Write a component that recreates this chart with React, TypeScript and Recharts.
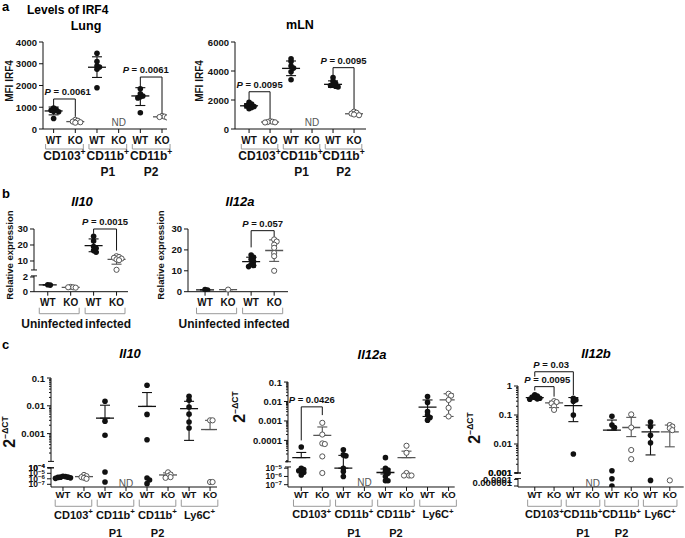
import React from 'react';
import { ScatterChart, Scatter, XAxis, YAxis, ErrorBar, ReferenceLine, ReferenceDot } from 'recharts';

const FONT = '"Liberation Sans", Arial, sans-serif';
const INK = '#111';
const KO_INK = '#555';
const GREY = '#9a9a9a';

// ---------- categories / labels ----------
const wtko6 = ['WT', 'KO', 'WT', 'KO', 'WT', 'KO'];
const wtko4 = ['WT', 'KO', 'WT', 'KO'];
const wtko8 = ['WT', 'KO', 'WT', 'KO', 'WT', 'KO', 'WT', 'KO'];
const cellsA = [['CD103+'], ['CD11b+', 'P1'], ['CD11b+', 'P2']];
const cellsC = [['CD103+'], ['CD11b+', 'P1'], ['CD11b+', 'P2'], ['Ly6C+']];
const infection = ['Uninfected', 'infected'];

// ---------- a: Lung (MFI IRF4) ----------
const lungPts = [
  [960, 900, 860, 820, 790, 480],
  [420, 380, 340, 310, 290],
  [3480, 3100, 2900, 2850, 2750, 1900],
  [],
  [1850, 1620, 1520, 1480, 1430, 750],
  [600, 570, 550, 530],
];
const lungMean = [830, 340, 2840, null, 1520, 560];
const lungLo = [650, 290, 2370, null, 1080, 520];
const lungHi = [1010, 400, 3320, null, 1900, 600];
const lungTicks = [0, 1000, 2000, 3000, 4000];

// ---------- a: mLN ----------
const mlnPts = [
  [1850, 1720, 1650, 1600, 1550, 1480, 1400],
  [540, 500, 480, 460, 450],
  [4850, 4650, 4350, 4200, 3950, 3400],
  [],
  [3550, 3300, 3150, 3050, 3000, 2950, 2900],
  [1200, 1120, 1060, 1000, 950],
];
const mlnMean = [1600, 480, 4180, null, 3080, 1050];
const mlnLo = [1450, 440, 3680, null, 2870, 940];
const mlnHi = [1750, 520, 4690, null, 3320, 1160];
const mlnTicks = [0, 2000, 4000, 6000];

// ---------- b: Il10 / Il12a relative expression ----------
const il10bPts = [
  [0.95, 0.9],
  [0.65, 0.6, 0.55, 0.6],
  [25.5, 22.5, 19, 18, 16.5, 15.5],
  [13, 12.5, 12, 11.5, 11, 10.5, 4.5],
];
const il10bMean = [0.92, 0.6, 19.6, 11];
const il10bLo = [0.9, 0.55, 15.8, 8];
const il10bHi = [0.95, 0.65, 23.8, 12.7];

const il12abPts = [
  [1.0, 0.8],
  [1.0],
  [17.5, 16.5, 15.5, 14.5, 13, 12.5, 12],
  [25, 24, 22.5, 21, 18.5, 17, 10],
];
const il12abMean = [0.9, 1.0, 14.4, 19.7];
const il12abLo = [0.9, 1.0, 12.5, 14.5];
const il12abHi = [0.9, 1.0, 16.5, 24.8];

// ---------- c: 2^-dCT ----------
const il10cPts = [
  [3e-6, 2.5e-6, 2e-6, 2e-6, 1.8e-6, 1.5e-6, 1.2e-6],
  [5e-6, 3e-6, 2e-6, 1.5e-6, 1e-6],
  [0.0145, 0.0028, 0.00087, 1.7e-5, 2.6e-7],
  [],
  [0.055, 0.0049, 0.0006, 1.4e-6, 6e-7, 1.3e-7],
  [1.5e-5, 6e-6, 3e-6, 2e-6, 1.5e-6],
  [0.022, 0.016, 0.009, 0.005, 0.0026, 0.0016],
  [0.003, 0.003, 2.6e-7, 2.6e-7],
];
const il10cMean = [2e-6, 2.5e-6, 0.0036, null, 0.0095, 5e-6, 0.0079, 0.0014];
const il10cLo = [1.7e-6, 2e-6, null, null, null, 4e-6, 0.00057, null];
const il10cHi = [2.4e-6, 3.2e-6, 0.0105, null, 0.03, 1.2e-5, 0.0145, 0.003];

const il12acPts = [
  [4.6e-5, 1e-5, 7e-6, 5e-6, 4e-6, 3e-6, 1.5e-6],
  [8e-4, 2e-4, 7e-5, 6.5e-5, 1.5e-5, 2.6e-6],
  [3.3e-5, 1.8e-5, 1.6e-5, 1e-5, 4e-6, 1e-6],
  [],
  [1.3e-5, 1e-5, 6e-6, 4e-6, 2.5e-6, 1e-6, 3e-7, 3e-7],
  [5.3e-5, 2.3e-5, 2.6e-6, 1.3e-6, 1.3e-6, 1.3e-6],
  [0.018, 0.009, 0.003, 0.002, 0.0015, 0.0011],
  [0.025, 0.02, 0.012, 0.0047, 0.0017],
];
const il12acMean = [1.3e-5, 1.8e-4, 1e-5, null, 3e-6, 1.3e-5, 0.0051, 0.012];
const il12acLo = [null, null, null, null, 2e-6, null, 0.0017, 0.0017];
const il12acHi = [2.4e-5, 4.9e-4, 1.7e-5, null, 8e-6, 2.8e-5, 0.012, 0.025];

const il12bcPts = [
  [0.5, 0.45, 0.42, 0.4, 0.38, 0.36, 0.35],
  [0.3, 0.28, 0.25, 0.2, 0.15],
  [0.38, 0.33, 0.3, 0.1, 0.0045],
  [],
  [0.09, 0.045, 0.037, 0.0012, 1.5e-4, 1e-6],
  [0.105, 0.037, 0.0062, 0.003],
  [0.057, 0.04, 0.02, 0.011, 5e-5],
  [0.045, 0.04, 0.035, 0.03, 5e-5],
];
const il12bcMean = [0.4, 0.26, 0.21, null, 0.03, 0.037, 0.026, 0.026];
const il12bcLo = [0.36, 0.18, 0.059, null, null, 0.018, 0.0042, 0.008];
const il12bcHi = [0.45, 0.3, 0.4, null, 0.067, 0.083, 0.045, 0.045];

// ---------- types ----------
type Tick = { v: number; t?: string; s?: number; k?: 'min' | 'brk'; dy?: number; fs?: number };
type Br = { a: number; b: number; top: number; da: number; db: number; p: string; dx?: number };
type Grp = { first: number; lines: string[]; dx?: number };
type XS = { lab: number; bt: number; bb: number; g: number; g2: number; labFs: number; gFs: number };
interface Cfg {
  axisX: number; axisEnd: number; plotTop: number; axisY: number;
  xDom: [number, number]; yDom: [number, number];
  toD: (v: number, s?: number) => number;
  ticks: Tick[]; segs: [number, number][];
  labels: string[]; groups: Grp[];
  pts: number[][]; mean: (number | null)[]; lo: (number | null)[]; hi: (number | null)[];
  br: Br[]; nd: { x: number; y: number; s?: number }[];
  xs: XS; yFs: number;
}

const lin = (v: number) => v;
const il10bD = (v: number, s?: number) =>
  (s ?? (v < 3.3 ? 0 : 1)) === 0 ? v * 7.35 : 30.7 + (v - 10) * 1.6;

type Piece = { lv0: number; d0: number; slope: number; min?: number };
const logBreak = (up: Piece, low: Piece, split: number) => (v: number, s?: number) => {
  const lv = Math.log10(v);
  const seg = s ?? (lv >= split ? 1 : 0);
  if (seg === 1) return up.d0 + (lv - up.lv0) * up.slope;
  return low.d0 + (Math.max(lv, low.min ?? -99) - low.lv0) * low.slope;
};
const il10cD = logBreak({ lv0: -3, d0: 53.4, slope: 27.8 }, { lv0: -7, d0: 2.7, slope: 5.5, min: -7 }, -4);
const il12acD = logBreak({ lv0: -4, d0: 46.6, slope: 19.45 }, { lv0: -7, d0: 2.3, slope: 8.25, min: -7 }, -4.95);
const il12bcD = logBreak({ lv0: -3, d0: 14, slope: 29 }, { lv0: -6, d0: 1, slope: 3.3, min: -6.3 }, -3.5);

const minors = (k0: number, k1: number, lo: number, hi: number): Tick[] => {
  const out: Tick[] = [];
  for (let k = k0; k <= k1; k++)
    for (let m = 2; m <= 9; m++) {
      const v = m * Math.pow(10, k);
      if (v > lo * 1.0001 && v < hi * 0.9999) out.push({ v, s: 1, k: 'min' });
    }
  return out;
};

const xsA: XS = { lab: 11, bt: 15, bb: 20, g: 26.5, g2: 42.5, labFs: 10, gFs: 12 };
const xsB: XS = { lab: 11, bt: 16, bb: 22, g: 32, g2: 48, labFs: 10, gFs: 12 };
const xsC: XS = { lab: 7.8, bt: 12.6, bb: 19.3, g: 27.5, g2: 46, labFs: 9.5, gFs: 11 };

const grpA: Grp[] = cellsA.map((lines, i) => ({ first: i * 2, lines }));
const grpC: Grp[] = cellsC.map((lines, i) => ({ first: i * 2, lines }));

const lung: Cfg = {
  axisX: 43, axisEnd: 167, plotTop: 42, axisY: 129, xDom: [-0.49, 5.23], yDom: [0, 4000], toD: lin,
  ticks: lungTicks.map((v) => ({ v, t: String(v) })), segs: [[0, 4000]],
  labels: wtko6, groups: grpA, pts: lungPts, mean: lungMean, lo: lungLo, hi: lungHi,
  br: [
    { a: 0, b: 1, top: 1380, da: 1030, db: 560, p: '0.0061', dx: 0.15 },
    { a: 4, b: 5, top: 2390, da: 1900, db: 640, p: '0.0061', dx: -0.25 },
  ],
  nd: [{ x: 3, y: 290 }], xs: xsA, yFs: 9.5,
};

const mln: Cfg = {
  axisX: 235, axisEnd: 366, plotTop: 42, axisY: 129, xDom: [-0.67, 5.57], yDom: [0, 6000], toD: lin,
  ticks: mlnTicks.map((v) => ({ v, t: String(v) })), segs: [[0, 6000]],
  labels: wtko6, groups: grpA, pts: mlnPts, mean: mlnMean, lo: mlnLo, hi: mlnHi,
  br: [
    { a: 0, b: 1, top: 2570, da: 2000, db: 620, p: '0.0095' },
    { a: 4, b: 5, top: 4230, da: 3720, db: 1310, p: '0.0095' },
  ],
  nd: [{ x: 3, y: 434 }], xs: xsA, yFs: 9.5,
};

const il10b: Cfg = {
  axisX: 34, axisEnd: 128, plotTop: 229, axisY: 291.7, xDom: [-0.6, 3.5], yDom: [0, 62.7], toD: il10bD,
  ticks: [
    { v: 0, t: '0', s: 0 }, { v: 2, t: '2', s: 0 }, { v: 10, t: '10', s: 1 }, { v: 20, t: '20', s: 1 },
    { v: 30, t: '30', s: 1 }, { v: 2.15, s: 0, k: 'brk' }, { v: 4.4, s: 1, k: 'brk' },
  ],
  segs: [[0, il10bD(2.15, 0)], [il10bD(4.4, 1), il10bD(30, 1)]],
  labels: wtko4, groups: [{ first: 0, lines: [infection[0]], dx: -7 }, { first: 2, lines: [infection[1]], dx: 3 }],
  pts: il10bPts, mean: il10bMean, lo: il10bLo, hi: il10bHi,
  br: [{ a: 2, b: 3, top: 30, da: 27, db: 16.5, p: '0.0015' }],
  nd: [], xs: xsB, yFs: 9.5,
};

const il12ab: Cfg = {
  axisX: 188, axisEnd: 288, plotTop: 229, axisY: 291.7, xDom: [-0.74, 3.6], yDom: [0, 30], toD: lin,
  ticks: [0, 10, 20, 30].map((v) => ({ v, t: String(v) })), segs: [[0, 30]],
  labels: wtko4, groups: [{ first: 0, lines: [infection[0]], dx: -7 }, { first: 2, lines: [infection[1]], dx: 4 }],
  pts: il12abPts, mean: il12abMean, lo: il12abLo, hi: il12abHi,
  br: [{ a: 2, b: 3, top: 29.2, da: 21.2, db: 25.5, p: '0.057' }],
  nd: [], xs: xsB, yFs: 9.5,
};

const il10c: Cfg = {
  axisX: 50.7, axisEnd: 216.7, plotTop: 377.7, axisY: 486.7, xDom: [-0.57, 7.33], yDom: [0, 109], toD: il10cD,
  ticks: [
    { v: 0.1, t: '0.1', s: 1 }, { v: 0.01, t: '0.01', s: 1 }, { v: 0.001, t: '0.001', s: 1 },
    ...minors(-4, -2, 1e-4, 0.1),
    { v: 1e-4, s: 1, k: 'brk' }, { v: 1e-4, s: 0, k: 'brk' },
    { v: 1e-4, t: '10^−4', s: 0, fs: 8.5 }, { v: 1e-5, t: '10^−5', s: 0, fs: 8.5 },
    { v: 1e-6, t: '10^−6', s: 0, fs: 8.5 }, { v: 1e-7, t: '10^−7', s: 0, fs: 8.5 },
  ],
  segs: [[0, il10cD(1e-4, 0)], [il10cD(1e-4, 1), il10cD(0.1, 1)]],
  labels: wtko8, groups: grpC, pts: il10cPts, mean: il10cMean, lo: il10cLo, hi: il10cHi,
  br: [], nd: [{ x: 3, y: 1.7e-7, s: 0 }], xs: xsC, yFs: 9.5,
};

const il12ac: Cfg = {
  axisX: 288.3, axisEnd: 455, plotTop: 382.3, axisY: 487.3, xDom: [-0.63, 7.29], yDom: [0, 105], toD: il12acD,
  ticks: [
    { v: 0.1, t: '0.1', s: 1 }, { v: 0.01, t: '0.01', s: 1 }, { v: 0.001, t: '0.001', s: 1 },
    { v: 0.0001, t: '0.0001', s: 1 }, ...minors(-6, -2, Math.pow(10, -5.1), 0.1),
    { v: Math.pow(10, -5.1), s: 1, k: 'brk' }, { v: Math.pow(10, -4.85), s: 0, k: 'brk' },
    { v: 1e-5, t: '10^−5', s: 0, fs: 8.5 }, { v: 1e-6, t: '10^−6', s: 0, fs: 8.5 }, { v: 1e-7, t: '10^−7', s: 0, fs: 8.5 },
  ],
  segs: [[0, il12acD(Math.pow(10, -4.85), 0)], [il12acD(Math.pow(10, -5.1), 1), il12acD(0.1, 1)]],
  labels: wtko8, groups: grpC, pts: il12acPts, mean: il12acMean, lo: il12acLo, hi: il12acHi,
  br: [{ a: 0, b: 1, top: 0.0053, da: 1e-4, db: 0.002, p: '0.0426' }],
  nd: [{ x: 3, y: 1.9e-7, s: 0 }], xs: xsC, yFs: 9.5,
};

const il12bc: Cfg = {
  axisX: 518.3, axisEnd: 684, plotTop: 386, axisY: 487, xDom: [-0.87, 7.72], yDom: [0, 101], toD: il12bcD,
  ticks: [
    { v: 1, t: '1', s: 1 }, { v: 0.1, t: '0.1', s: 1 }, { v: 0.01, t: '0.01', s: 1 }, { v: 0.001, t: '0.001', s: 1 },
    ...minors(-3, -1, 0.001, 1),
    { v: 0.001, s: 1, k: 'brk' }, { v: Math.pow(10, -3.76), s: 0, k: 'brk' },
    { v: 1e-4, t: '0.0001', s: 0, dy: 0 }, { v: 1e-6, t: '0.000001', s: 0, dy: -3 },
  ],
  segs: [[0, il12bcD(Math.pow(10, -3.76), 0)], [il12bcD(0.001, 1), il12bcD(1, 1)]],
  labels: wtko8, groups: grpC, pts: il12bcPts, mean: il12bcMean, lo: il12bcLo, hi: il12bcHi,
  br: [
    { a: 0, b: 2, top: 3.1, da: 2.1, db: 0.49, p: '0.03', dx: -0.15 },
    { a: 0, b: 1, top: 0.95, da: 0.7, db: 0.43, p: '0.0095', dx: 0.15 },
  ],
  nd: [{ x: 3, y: 6.6e-6, s: 0 }], xs: xsC, yFs: 9.5,
};

// ---------- rendering helpers ----------
function Rich({ s, fs }: { s: string; fs: number }) {
  let base = s;
  let sup = '';
  const k = s.indexOf('^');
  if (k >= 0) {
    base = s.slice(0, k);
    sup = s.slice(k + 1);
  } else if (s.endsWith('+')) {
    base = s.slice(0, -1);
    sup = '+';
  }
  return (
    <>
      {base}
      {sup && (
        <tspan dy={-fs * 0.28} fontSize={fs * 0.72}>
          {sup}
        </tspan>
      )}
    </>
  );
}

const YW = 46;
const MT = 30;
const XH = 58;
const MR = 30;

function Panel({ c }: { c: Cfg }) {
  const plotW = c.axisEnd - c.axisX;
  const plotH = c.axisY - c.plotTop;
  const W = YW + plotW + MR;
  const H = MT + plotH + XH;
  const pxX = plotW / (c.xDom[1] - c.xDom[0]);
  const pxY = plotH / (c.yDom[1] - c.yDom[0]);

  // spread overlapping dots sideways (beeswarm)
  const filled: any[] = [];
  const open: any[] = [];
  c.pts.forEach((arr, i) => {
    const placed: { dx: number; y: number }[] = [];
    const ds = arr.map((v) => c.toD(v)).sort((a, b) => b - a);
    ds.forEach((d) => {
      const y = d * pxY;
      let dx = 0;
      for (let k = 0; k < 24; k++) {
        const cand = k === 0 ? 0 : (k % 2 ? 1 : -1) * Math.ceil(k / 2) * 2.5;
        if (placed.every((p) => Math.hypot(p.dx - cand, p.y - y) >= 2.5)) {
          dx = cand;
          break;
        }
      }
      placed.push({ dx, y });
      (i % 2 ? open : filled).push({ x: i + dx / pxX, y: d });
    });
  });

  const sumW: any[] = [];
  const sumK: any[] = [];
  c.mean.forEach((m, i) => {
    if (m == null) return;
    const dm = c.toD(m);
    const lo = c.lo[i];
    const hi = c.hi[i];
    const dl = lo == null ? dm : c.toD(lo);
    const dh = hi == null ? dm : c.toD(hi);
    (i % 2 ? sumK : sumW).push({ x: i, y: dm, err: [dm - dl, dh - dm] });
  });

  const tickDs = c.ticks.map((t) => c.toD(t.v, t.s));
  const xTicks = c.labels.map((_, i) => i);
  const sp = pxX;

  const yTick = (p: any) => {
    const d = p.payload.value;
    const x = p.x;
    const y = p.y;
    const els: React.ReactNode[] = [];
    tickDs.forEach((v, j) => {
      if (Math.abs(v - d) > 1e-6) return;
      const t = c.ticks[j];
      if (t.k === 'brk') {
        els.push(<line key={'b' + j} x1={x - 3} x2={x + 3} y1={y} y2={y} stroke={INK} />);
        return;
      }
      const len = t.k === 'min' ? 2 : 4;
      els.push(<line key={'l' + j} x1={x - len} x2={x} y1={y} y2={y} stroke={INK} />);
      if (t.t) {
        const fs = t.fs ?? c.yFs;
        els.push(
          <text key={'t' + j} x={x - 6} y={y + (t.dy ?? 0)} textAnchor="end" dominantBaseline="central"
            fontSize={fs} fontWeight="bold" fill={INK} fontFamily={FONT}>
            <Rich s={t.t} fs={fs} />
          </text>
        );
      }
    });
    return <g>{els}</g>;
  };

  const xTick = (p: any) => {
    const { x, y, payload } = p;
    const i = Math.round(payload.value);
    const base = y - 4;
    const g = c.groups.find((gg) => gg.first === i);
    const mid = x + sp / 2;
    const h = sp * 0.87;
    return (
      <g fontFamily={FONT} fill={INK} fontWeight="bold">
        <text x={x} y={base + c.xs.lab} textAnchor="middle" dominantBaseline="central" fontSize={c.xs.labFs}>
          {c.labels[i]}
        </text>
        {g && (
          <path d={`M${mid - h},${base + c.xs.bt}V${base + c.xs.bb}H${mid + h}V${base + c.xs.bt}`}
            stroke={GREY} fill="none" strokeWidth={1} />
        )}
        {g &&
          g.lines.map((ln, k) => (
            <text key={k} x={mid + (g.dx ?? 0)} y={base + (k === 0 ? c.xs.g : c.xs.g2)} textAnchor="middle"
              dominantBaseline="central" fontSize={c.xs.gFs}>
              <Rich s={ln} fs={c.xs.gFs} />
            </text>
          ))}
      </g>
    );
  };

  const dot = (isOpen: boolean) => (p: any) =>
    isOpen ? (
      <circle cx={p.cx} cy={p.cy} r={2.6} fill="#fff" stroke={KO_INK} strokeWidth={1} />
    ) : (
      <circle cx={p.cx} cy={p.cy} r={2.8} fill={INK} />
    );
  const meanLine = (col: string) => (p: any) =>
    <line x1={p.cx - 9} x2={p.cx + 9} y1={p.cy} y2={p.cy} stroke={col} strokeWidth={1.3} />;

  return (
    <div style={{ position: 'absolute', left: c.axisX - YW, top: c.plotTop - MT, width: W, height: H }}>
      <ScatterChart width={W} height={H} margin={{ top: MT, right: MR, bottom: 0, left: 0 }}>
        <XAxis type="number" dataKey="x" domain={c.xDom} allowDataOverflow ticks={xTicks} interval={0}
          tickSize={4} tickMargin={0} height={XH} tick={xTick} axisLine={{ stroke: INK }} tickLine={{ stroke: INK }} />
        <YAxis type="number" dataKey="y" domain={c.yDom} allowDataOverflow ticks={tickDs} interval={0}
          width={YW} tickSize={0} tickMargin={0} tickLine={false} axisLine={false} tick={yTick} />
        {c.segs.map((s, k) => (
          <ReferenceLine key={'s' + k} segment={[{ x: c.xDom[0], y: s[0] }, { x: c.xDom[0], y: s[1] }]}
            stroke={INK} strokeWidth={1} ifOverflow="visible" />
        ))}
        {c.br.map((b, k) => {
          const top = c.toD(b.top);
          return [
            <ReferenceLine key={'h' + k} segment={[{ x: b.a, y: top }, { x: b.b, y: top }]} stroke={INK} ifOverflow="visible" />,
            <ReferenceLine key={'va' + k} segment={[{ x: b.a, y: top }, { x: b.a, y: c.toD(b.da) }]} stroke={INK} ifOverflow="visible" />,
            <ReferenceLine key={'vb' + k} segment={[{ x: b.b, y: top }, { x: b.b, y: c.toD(b.db) }]} stroke={INK} ifOverflow="visible" />,
            <ReferenceDot key={'p' + k} x={(b.a + b.b) / 2 + (b.dx ?? 0)} y={top} r={0} ifOverflow="visible"
              shape={(p: any) => (
                <text x={p.cx} y={p.cy - 4} textAnchor="middle" fontSize={9.5} fontWeight="bold" fill={INK} fontFamily={FONT}>
                  <tspan fontStyle="italic">P</tspan> = {b.p}
                </text>
              )} />,
          ];
        })}
        {c.nd.map((n, k) => (
          <ReferenceDot key={'nd' + k} x={n.x} y={c.toD(n.y, n.s)} r={0} ifOverflow="visible"
            shape={(p: any) => (
              <text x={p.cx} y={p.cy} textAnchor="middle" dominantBaseline="central" fontSize={10} fill="#555" fontFamily={FONT}>
                ND
              </text>
            )} />
        ))}
        <Scatter data={sumW} isAnimationActive={false} shape={meanLine(INK)}>
          <ErrorBar dataKey="err" direction="y" width={5} stroke={INK} strokeWidth={1.1} isAnimationActive={false} />
        </Scatter>
        <Scatter data={sumK} isAnimationActive={false} shape={meanLine(KO_INK)}>
          <ErrorBar dataKey="err" direction="y" width={5} stroke={KO_INK} strokeWidth={1.1} isAnimationActive={false} />
        </Scatter>
        <Scatter data={filled} isAnimationActive={false} shape={dot(false)} />
        <Scatter data={open} isAnimationActive={false} shape={dot(true)} />
      </ScatterChart>
    </div>
  );
}

function VLabel({ x, y, children, fs = 9.5 }: { x: number; y: number; children: React.ReactNode; fs?: number }) {
  return (
    <text x={x} y={y} transform={`rotate(-90 ${x} ${y})`} textAnchor="middle" fontSize={fs} fontWeight="bold" fill={INK}>
      {children}
    </text>
  );
}

function DCt({ x, y }: { x: number; y: number }) {
  return (
    <text x={x} y={y} transform={`rotate(-90 ${x} ${y})`} textAnchor="middle" fontWeight="bold" fill={INK}>
      <tspan fontSize={16}>2</tspan>
      <tspan fontSize={8.5} dy={-7}>−ΔCT</tspan>
    </text>
  );
}

export default function App() {
  return (
    <div style={{ position: 'absolute', left: 0, top: 0, width: 685, height: 538, background: '#fff', overflow: 'hidden', fontFamily: FONT }}>
      <Panel c={lung} />
      <Panel c={mln} />
      <Panel c={il10b} />
      <Panel c={il12ab} />
      <Panel c={il10c} />
      <Panel c={il12ac} />
      <Panel c={il12bc} />
      <svg width={685} height={538} style={{ position: 'absolute', left: 0, top: 0, pointerEvents: 'none' }} fontFamily={FONT}>
        <text x={2} y={11} fontSize={13} fontWeight="bold">a</text>
        <text x={27} y={13.5} fontSize={12} fontWeight="bold">Levels of IRF4</text>
        <text x={86} y={29.5} fontSize={12.5} fontWeight="bold" textAnchor="middle">Lung</text>
        <text x={300} y={29} fontSize={12.5} fontWeight="bold" textAnchor="middle">mLN</text>
        <VLabel x={13} y={81} fs={10}>MFI IRF4</VLabel>
        <VLabel x={203} y={81} fs={10}>MFI IRF4</VLabel>

        <text x={2} y={198} fontSize={13} fontWeight="bold">b</text>
        <text x={82} y={206} fontSize={13} fontWeight="bold" fontStyle="italic" textAnchor="middle">Il10</text>
        <text x={240} y={206} fontSize={13} fontWeight="bold" fontStyle="italic" textAnchor="middle">Il12a</text>
        <VLabel x={13} y={255}>Relative expression</VLabel>
        <VLabel x={164} y={255}>Relative expression</VLabel>

        <text x={2} y={349} fontSize={13} fontWeight="bold">c</text>
        <text x={130} y={358} fontSize={13} fontWeight="bold" fontStyle="italic" textAnchor="middle">Il10</text>
        <text x={372} y={359} fontSize={13} fontWeight="bold" fontStyle="italic" textAnchor="middle">Il12a</text>
        <text x={596} y={358} fontSize={13} fontWeight="bold" fontStyle="italic" textAnchor="middle">Il12b</text>
        <DCt x={15} y={432} />
        <DCt x={245} y={407} />
        <DCt x={480} y={428} />
      </svg>
    </div>
  );
}
